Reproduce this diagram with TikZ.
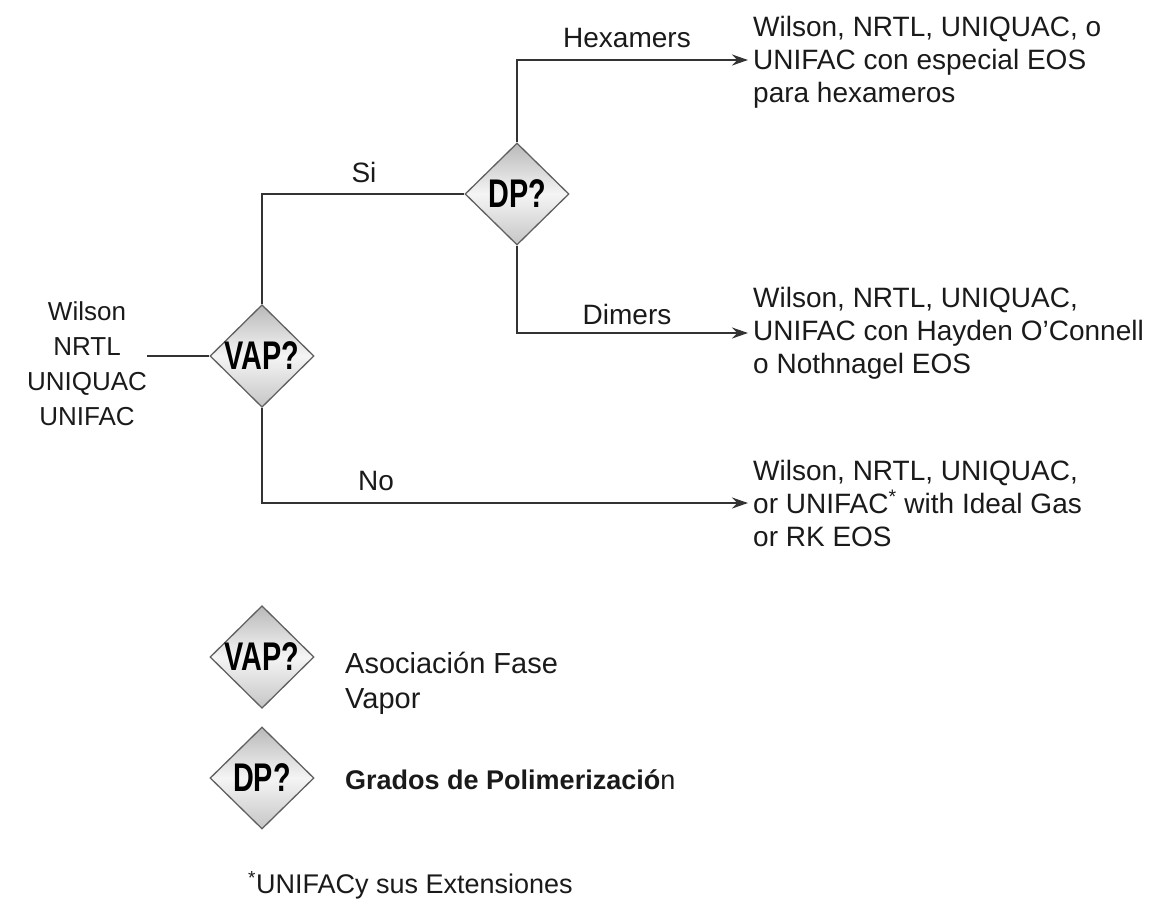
\documentclass[tikz,border=0pt]{standalone}
\usepackage{fontspec}
\usepackage{graphicx}
\setmainfont{Liberation Sans}
\usetikzlibrary{shapes.geometric,arrows.meta}
\definecolor{linec}{HTML}{333333}
\definecolor{txtc}{HTML}{1A1A1A}
\tikzset{
  dec/.style={diamond, draw=gray!75!black, line width=1.3pt, minimum width=104pt, minimum height=102pt, inner sep=0pt,
    top color=gray!55, bottom color=gray!45, middle color=gray!8, text=black},
  conn/.style={draw=linec, line width=2.1pt},
  arr/.style={conn, -{Stealth[length=16pt,width=11pt]}},
  lbl/.style={font=\fontsize{28}{32}\selectfont, text=txtc, inner sep=0pt},
  res/.style={font=\fontsize{28}{33}\selectfont, text=txtc, align=left, anchor=west, inner sep=0pt},
}
\newcommand{\dtxt}[1]{\scalebox{0.72}[1]{\fontsize{40}{40}\selectfont\bfseries #1}}
\begin{document}
\begin{tikzpicture}[x=1pt,y=-1pt]
\useasboundingbox (0,0) rectangle (1172,903);
% nodes
\node[font=\fontsize{26}{35}\selectfont, text=txtc, align=center, inner sep=0pt] (src) at (87,364) {Wilson\\NRTL\\UNIQUAC\\UNIFAC};
\node[dec] (vap) at (262,356) {\dtxt{VAP?}};
\node[dec] (dp) at (517,194) {\dtxt{DP?}};
\node[res] (hex) at (753,62) {Wilson, NRTL, UNIQUAC, o\\UNIFAC con especial EOS\\para hexameros};
\node[res] (dim) at (753,333) {Wilson, NRTL, UNIQUAC,\\UNIFAC con Hayden O'Connell\\o Nothnagel EOS};
\node[res] (ideal) at (753,503) {Wilson, NRTL, UNIQUAC,\\or UNIFAC\textsuperscript{*} with Ideal Gas\\or RK EOS};
\coordinate (src-e) at (147,356);
\coordinate (c-si) at (262,194);
\coordinate (c-hex) at (517,60);
\coordinate (c-dim) at (517,333);
\coordinate (c-no) at (262,503);
\coordinate (e-hex) at (748,60);
\coordinate (e-dim) at (748,333);
\coordinate (e-no) at (748,503);
% connectors
\draw[conn] (src-e) -- (vap.west);
\draw[conn] (vap.north) -- (c-si) -- (dp.west);
\draw[arr] (dp.north) -- (c-hex) -- (e-hex);
\draw[arr] (dp.south) -- (c-dim) -- (e-dim);
\draw[arr] (vap.south) -- (c-no) -- (e-no);
% labels
\node[lbl] (lsi) at (364,172) {Si};
\node[lbl] (lhex) at (627,38) {Hexamers};
\node[lbl] (ldim) at (627,314) {Dimers};
\node[lbl] (lno) at (376,481) {No};
% legend
\node[dec] (lvap) at (262,657) {\dtxt{VAP?}};
\node[dec] (ldp) at (262,778) {\dtxt{DP?}};
\node[font=\fontsize{29}{35}\selectfont, text=txtc, align=left, anchor=north west, inner sep=0pt] (tvap) at (345,652) {Asociación Fase\\Vapor};
\node[font=\fontsize{27}{33}\selectfont, text=txtc, anchor=west, inner sep=0pt] (tdp) at (345,780) {\textbf{Grados de Polimerizació}n};
\node[font=\fontsize{27}{33}\selectfont, text=txtc, anchor=west, inner sep=0pt] (foot) at (248,885) {\textsuperscript{*}UNIFACy sus Extensiones};
\end{tikzpicture}
\end{document}
